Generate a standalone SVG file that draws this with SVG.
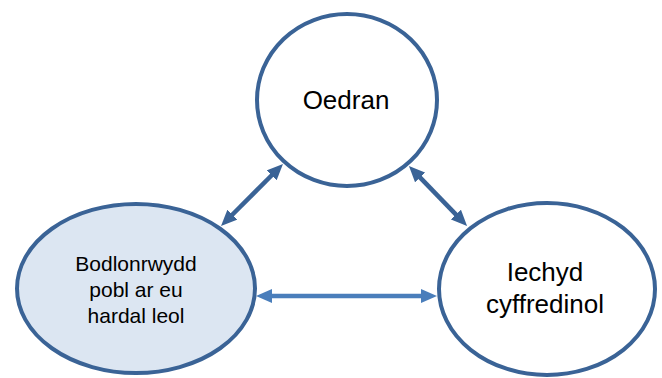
<svg xmlns="http://www.w3.org/2000/svg" width="662" height="378" viewBox="0 0 662 378">
<style>
.node{stroke:#3A6396;stroke-width:4}
.lbl{font-family:"Liberation Sans",Arial,sans-serif;fill:#000;text-anchor:middle}
.dark{stroke:#3A6396;stroke-width:4.5;fill:none}
.light{stroke:#4A7EBB;stroke-width:4.5;fill:none}
</style>
<defs>
<marker id="ahd" markerUnits="userSpaceOnUse" viewBox="0 0 16 14" markerWidth="16" markerHeight="14" refX="4" refY="7" orient="auto-start-reverse"><path d="M0,0 L16,7 L0,14 z" fill="#3A6396"/></marker>
<marker id="ahl" markerUnits="userSpaceOnUse" viewBox="0 0 16 14" markerWidth="16" markerHeight="14" refX="4" refY="7" orient="auto-start-reverse"><path d="M0,0 L16,7 L0,14 z" fill="#4A7EBB"/></marker>
</defs>
<rect width="662" height="378" fill="#fff"/>
<g id="connectors">
<path class="dark" d="M229.5,217.5 L274.5,172.5" marker-start="url(#ahd)" marker-end="url(#ahd)"/>
<path class="dark" d="M417.3,174.6 L458.7,217.4" marker-start="url(#ahd)" marker-end="url(#ahd)"/>
<path class="light" d="M268,296 L425,296" marker-start="url(#ahl)" marker-end="url(#ahl)"/>
</g>
<g id="node-oedran">
<ellipse class="node" cx="347" cy="100" rx="90" ry="86" fill="#fff"/>
<text class="lbl" x="346" y="109" font-size="26">Oedran</text>
</g>
<g id="node-bodlonrwydd">
<ellipse class="node" cx="136" cy="288.5" rx="119" ry="84.5" fill="#DCE6F2"/>
<text class="lbl" x="136" y="271" font-size="21">Bodlonrwydd</text>
<text class="lbl" x="136" y="297" font-size="21">pobl ar eu</text>
<text class="lbl" x="136" y="323" font-size="21">hardal leol</text>
</g>
<g id="node-iechyd">
<ellipse class="node" cx="547" cy="289" rx="108" ry="86" fill="#fff"/>
<text class="lbl" x="545" y="281" font-size="26">Iechyd</text>
<text class="lbl" x="545" y="313" font-size="26">cyffredinol</text>
</g>
</svg>
